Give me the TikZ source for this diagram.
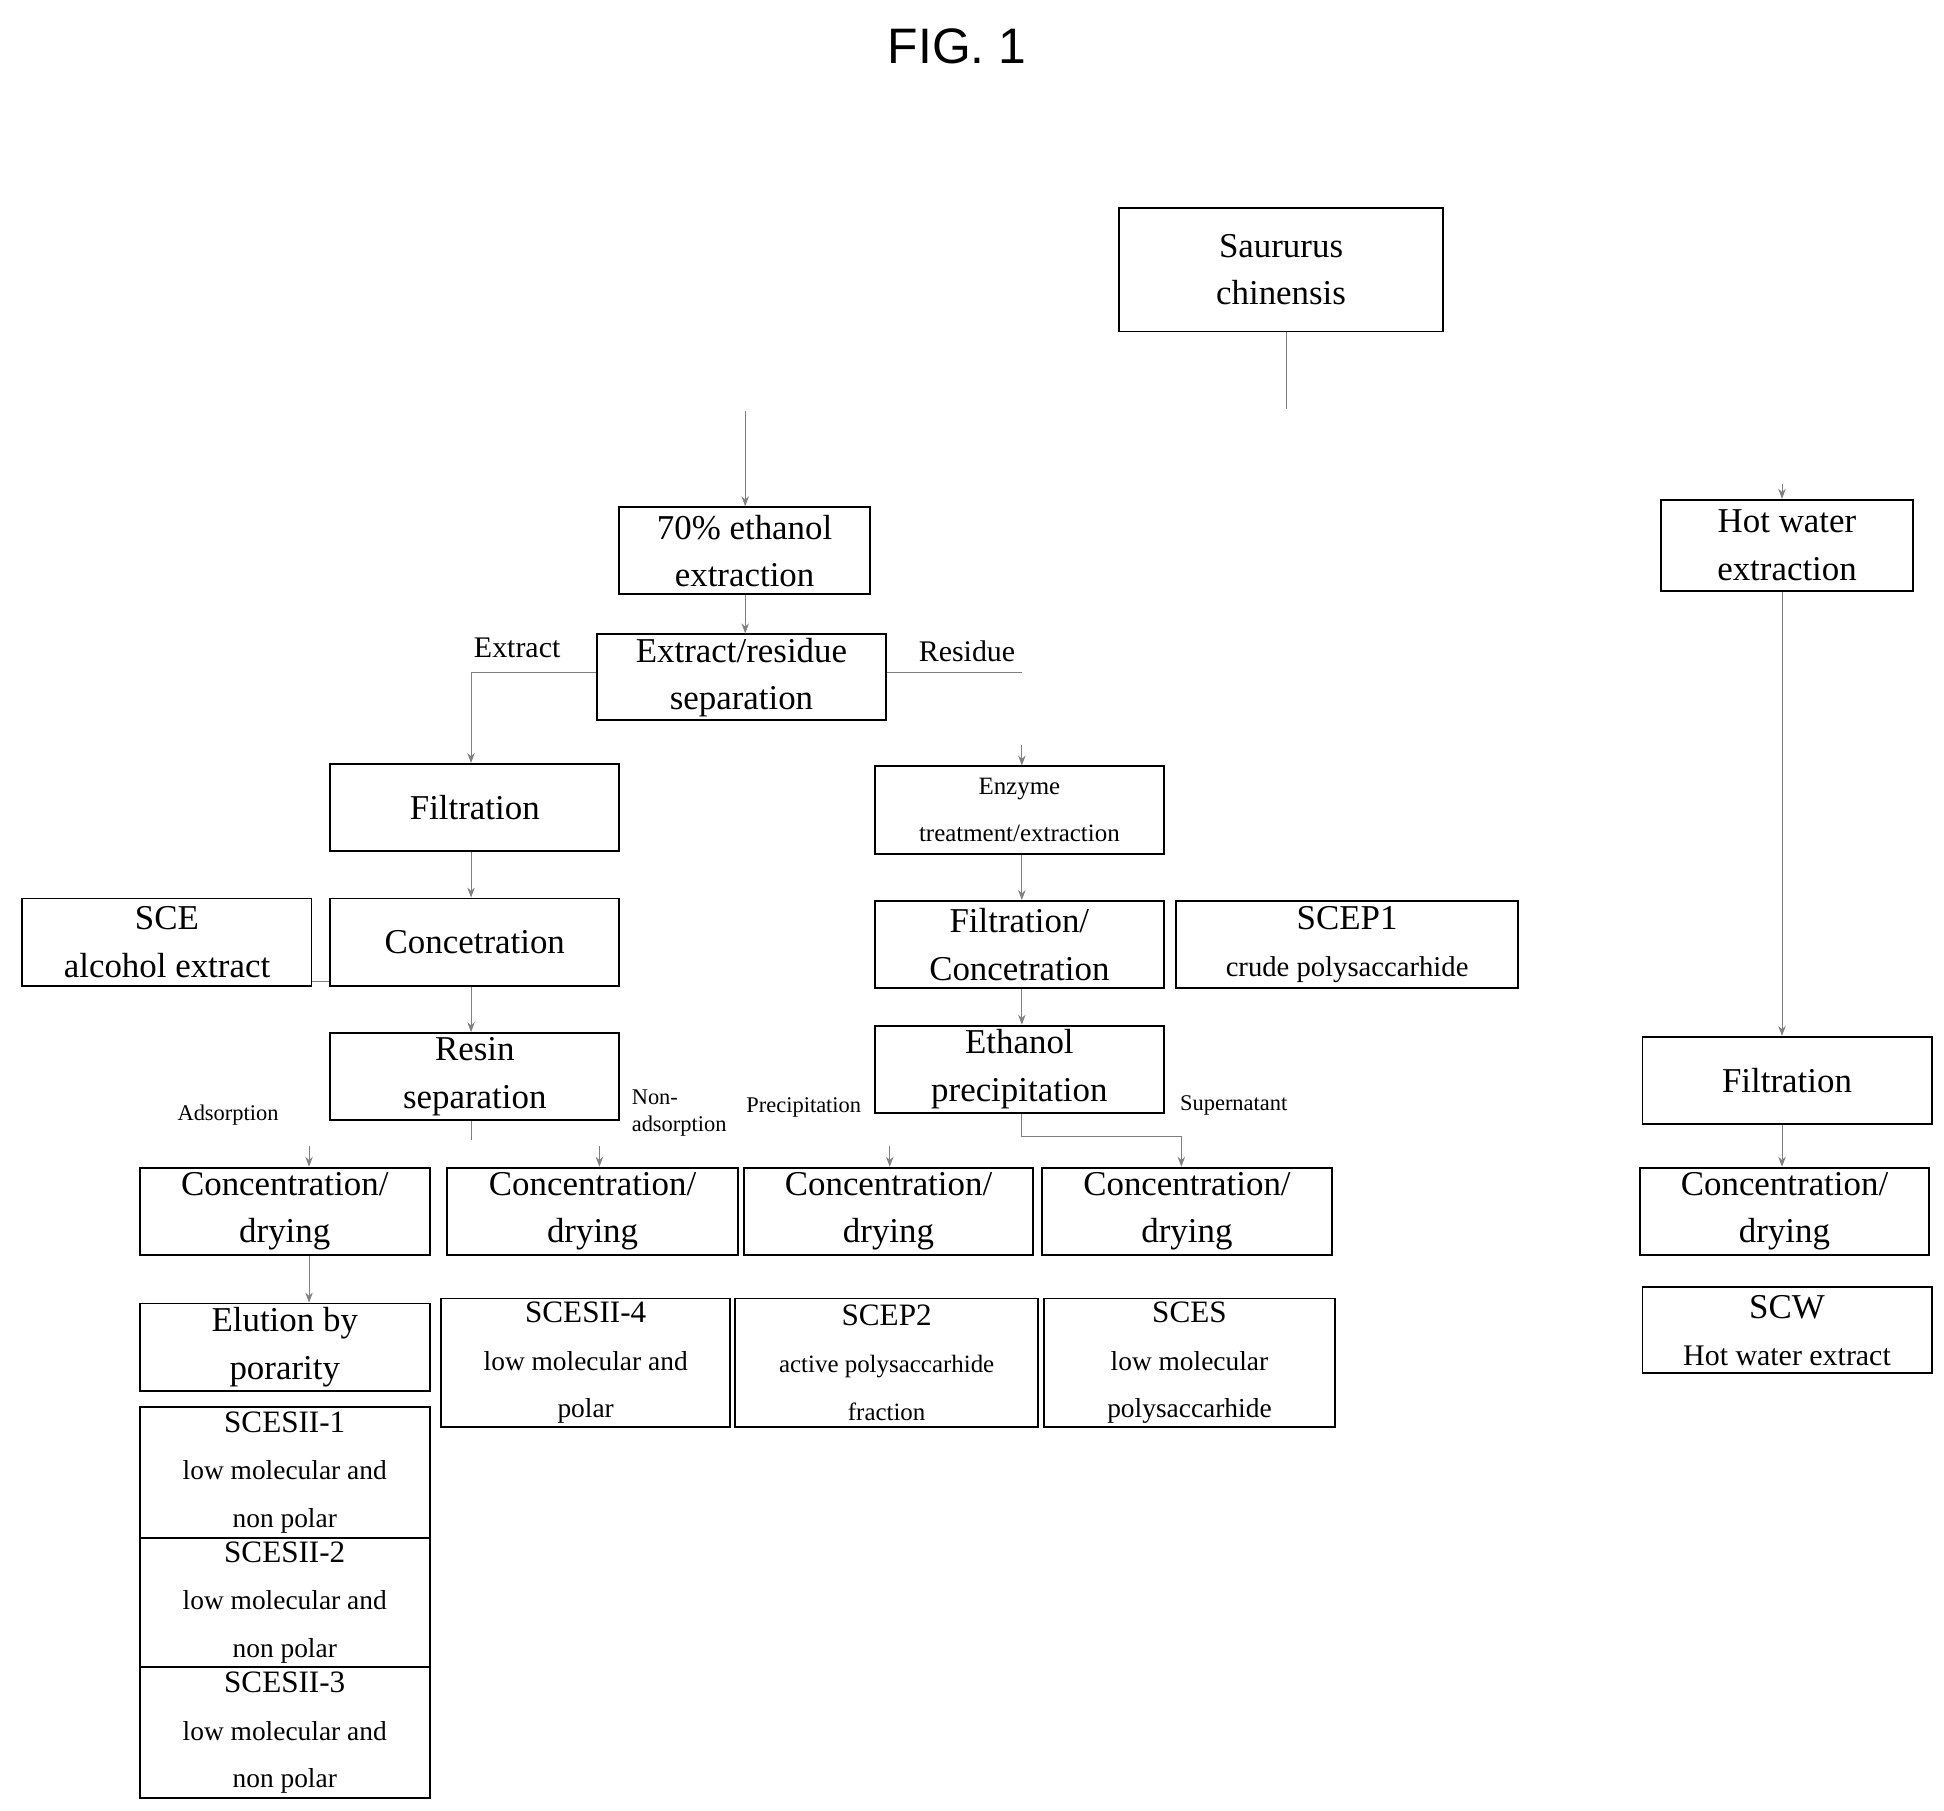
\documentclass[tikz,border=0pt]{standalone}
\usepackage{fontspec}
\setmainfont{Liberation Serif}
\newfontfamily\titlefont{Liberation Sans}
\usetikzlibrary{arrows.meta}
\begin{document}
\begin{tikzpicture}[x=1pt,y=-1pt,
  box/.style={draw=black,line width=1.5pt,inner sep=0pt,align=center,font=\fontsize{28}{38}\selectfont},
  sub/.style={font=\fontsize{22}{33}\selectfont},
  lab/.style={font=\fontsize{21}{24}\selectfont,align=left,inner sep=0pt},
  con/.style={draw=gray,line width=0.8pt},
  arr/.style={con,-{Stealth[length=8pt,width=6pt]}}]
\useasboundingbox (0,0) rectangle (1560,1453);
\newcommand\bx[6]{\node[box,minimum width={(#4-#2)*1pt},minimum height={(#5-#3)*1pt}] (#1) at ({(#2+#4)/2},{(#3+#5)/2}) {#6};}
\node[font=\titlefont\fontsize{40}{44}\selectfont] (title) at (768,37) {FIG. 1};
\bx{sc}{898}{167}{1158}{266}{Saururus\\chinensis}
\bx{eth}{497}{407}{698}{477}{70\% ethanol\\extraction}
\bx{hw}{1333}{401}{1535}{474}{Hot water\\extraction}
\bx{sep}{479}{509}{711}{578}{Extract/residue\\separation}
\bx{fil}{265}{613}{497}{683}{Filtration}
\bx{enz}{702}{615}{934}{685}{\fontsize{20}{27}\selectfont Enzyme\\\fontsize{20}{27}\selectfont treatment/extraction}
\bx{sce}{18}{721}{250}{791}{SCE\\alcohol extract}
\bx{conc}{265}{721}{497}{791}{Concetration}
\bx{fc}{702}{723}{934}{793}{Filtration/\\Concetration}
\bx{scep1}{944}{723}{1218}{793}{SCEP1\\{\fontsize{23}{34}\selectfont crude polysaccarhide}}
\bx{resin}{265}{829}{497}{899}{Resin\\separation}
\bx{ep}{702}{823}{934}{893}{Ethanol\\precipitation}
\bx{cd1}{112}{937}{345}{1007}{Concentration/\\drying}
\bx{cd2}{359}{937}{592}{1007}{Concentration/\\drying}
\bx{cd3}{597}{937}{829}{1007}{Concentration/\\drying}
\bx{cd4}{836}{937}{1069}{1007}{Concentration/\\drying}
\bx{hfil}{1318}{832}{1550}{902}{Filtration}
\bx{hcd}{1316}{937}{1548}{1007}{Concentration/\\drying}
\bx{scw}{1318}{1033}{1550}{1102}{SCW\\{\fontsize{24}{34}\selectfont Hot water extract}}
\bx{elu}{112}{1046}{345}{1116}{Elution by\\porarity}
\bx{s4}{354}{1042}{586}{1145}{{\fontsize{25}{34}\selectfont SCESII-4}\\{\fontsize{22}{33}\selectfont low molecular and}\\{\fontsize{22}{33}\selectfont polar}}
\bx{s5}{590}{1042}{833}{1145}{{\fontsize{25}{34}\selectfont SCEP2}\\{\fontsize{20}{31}\selectfont active polysaccarhide}\\{\fontsize{20}{31}\selectfont fraction}}
\bx{s6}{838}{1042}{1071}{1145}{{\fontsize{25}{34}\selectfont SCES}\\{\fontsize{22}{33}\selectfont low molecular}\\{\fontsize{22}{33}\selectfont polysaccarhide}}
\bx{s1}{112}{1129}{345}{1234}{{\fontsize{25}{34}\selectfont SCESII-1}\\{\fontsize{22}{33}\selectfont low molecular and}\\{\fontsize{22}{33}\selectfont non polar}}
\bx{s2}{112}{1234}{345}{1338}{{\fontsize{25}{34}\selectfont SCESII-2}\\{\fontsize{22}{33}\selectfont low molecular and}\\{\fontsize{22}{33}\selectfont non polar}}
\bx{s3}{112}{1338}{345}{1443}{{\fontsize{25}{34}\selectfont SCESII-3}\\{\fontsize{22}{33}\selectfont low molecular and}\\{\fontsize{22}{33}\selectfont non polar}}
% labels
\node[lab,font=\fontsize{24}{26}\selectfont] (lex) at (415,520) {Extract};
\node[lab,font=\fontsize{24}{26}\selectfont] (lres) at (776,523) {Residue};
\node[lab,font=\fontsize{18}{22}\selectfont] (lads) at (183,895) {Adsorption};
\node[lab,font=\fontsize{18}{22}\selectfont] (lnon) at (545,893) {Non-\\adsorption};
\node[lab,font=\fontsize{18}{22}\selectfont] (lpre) at (645,889) {Precipitation};
\node[lab,font=\fontsize{18}{22}\selectfont] (lsup) at (990,887) {Supernatant};
% coordinates
\coordinate (c1) at (1032,328);
\coordinate (c2) at (598,330);
\coordinate (c3) at (1430,388);
\coordinate (c4) at (820,540);
\coordinate (c5) at (820,598);
\coordinate (c6) at (378,915);
\coordinate (a1) at (248,920);
\coordinate (a2) at (481,920);
\coordinate (a3) at (714,920);
% connectors
\draw[con] (sc.south -| c1) -- (c1);
\draw[arr] (c2) -- (eth.north -| c2);
\draw[arr] (c3) -- (hw.north -| c3);
\draw[arr] (eth.south -| c2) -- (sep.north -| c2);
\draw[arr] (sep.west |- c4) -| (fil.north -| 378,0);
\draw[con] (sep.east |- c4) -- (c4);
\draw[arr] (c5) -- (enz.north -| c5);
\draw[arr] (fil.south -| 378,0) -- (conc.north -| 378,0);
\draw[arr] (enz.south -| c5) -- (fc.north -| c5);
\draw[con] (sce.east |- 0,788) -- (conc.west |- 0,788);
\draw[arr] (conc.south -| 378,0) -- (resin.north -| 378,0);
\draw[arr] (fc.south -| c5) -- (ep.north -| c5);
\draw[con] (resin.south -| c6) -- (c6);
\draw[arr] (a1) -- (cd1.north -| a1);
\draw[arr] (a2) -- (cd2.north -| a2);
\draw[arr] (a3) -- (cd3.north -| a3);
\draw[arr] (ep.south -| c5) |- (948,912) -- (cd4.north -| 948,0);
\draw[arr] (hw.south -| 1430,0) -- (hfil.north -| 1430,0);
\draw[arr] (hfil.south -| 1430,0) -- (hcd.north -| 1430,0);
\draw[arr] (cd1.south -| a1) -- (elu.north -| a1);
\end{tikzpicture}
\end{document}
